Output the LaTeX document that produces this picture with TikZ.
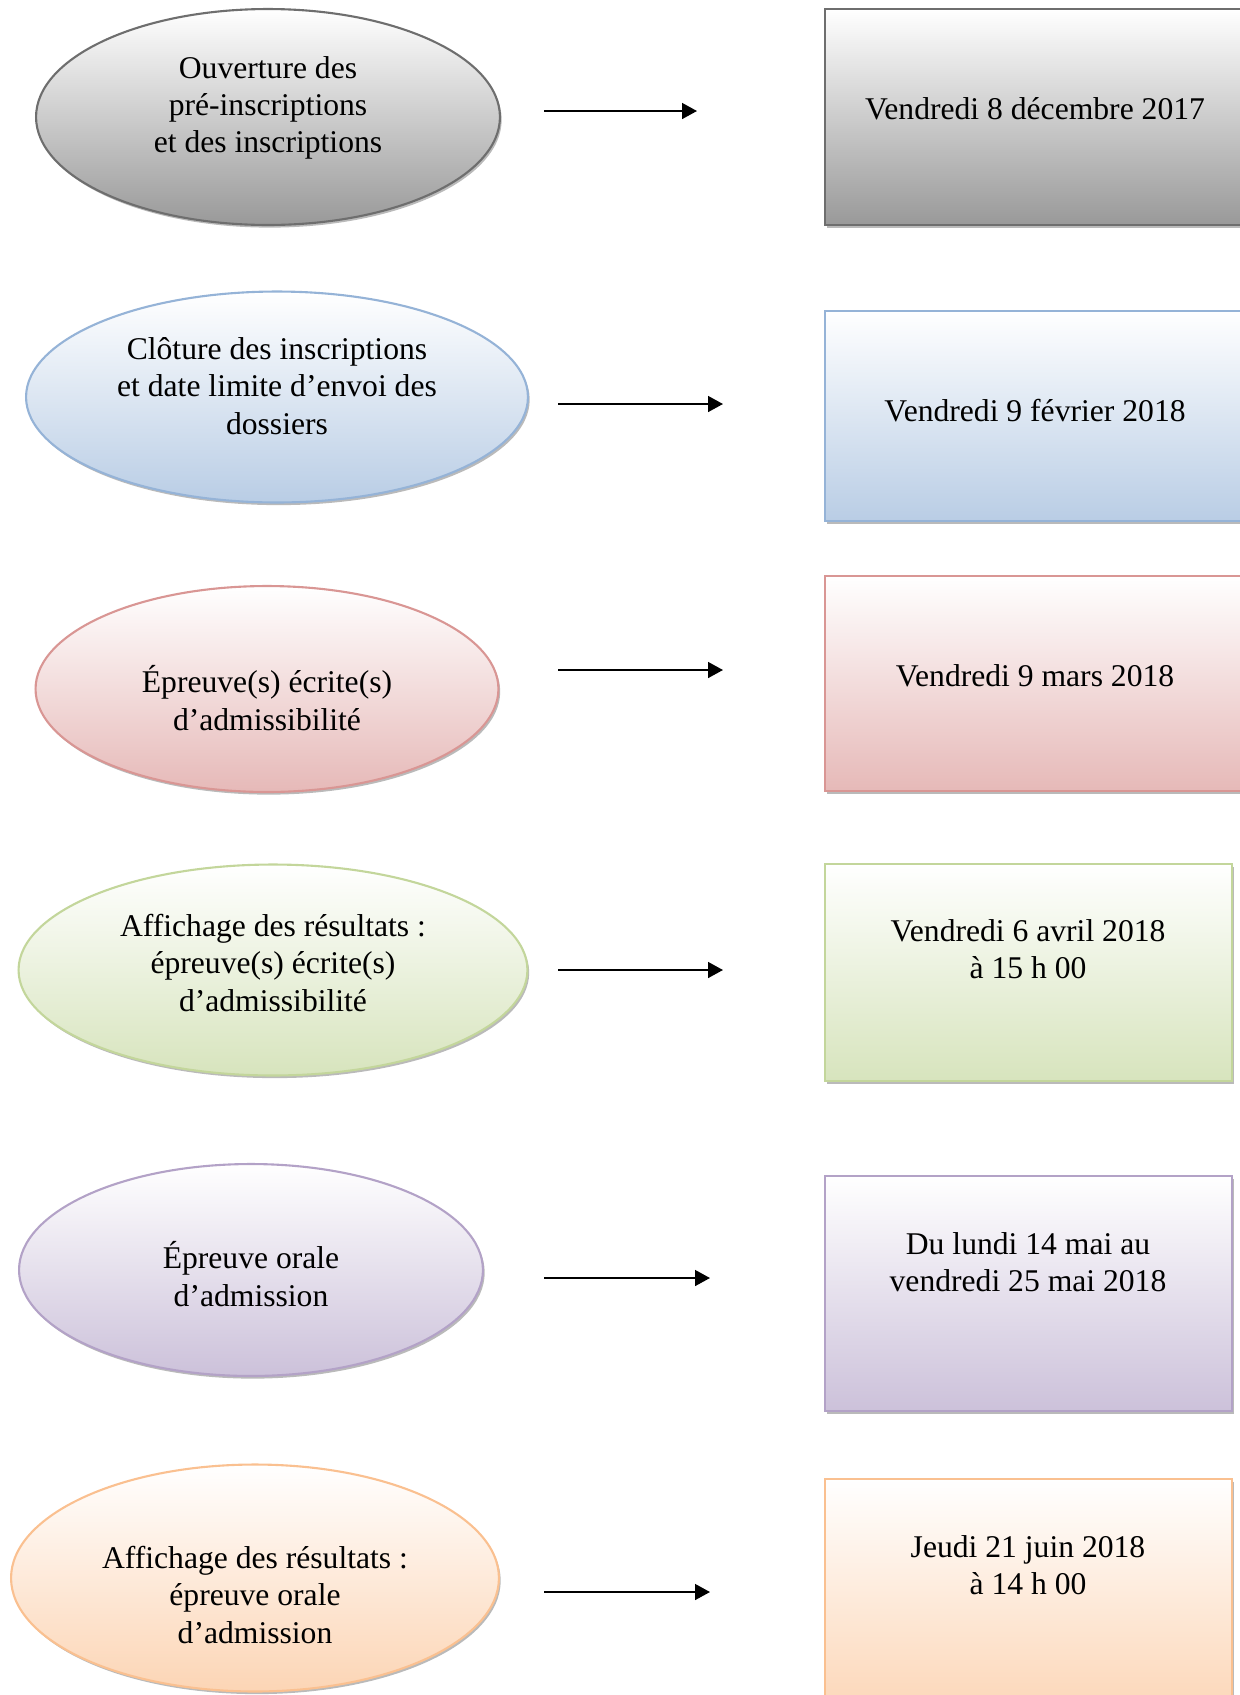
\documentclass[tikz,border=0pt]{standalone}
\usepackage{fontspec}
\setmainfont{Liberation Serif}
\usetikzlibrary{shapes.geometric}
\usetikzlibrary{shadows}
\usetikzlibrary{arrows.meta}

\definecolor{grisbord}{HTML}{6E6E6E}
\definecolor{grisfond}{HTML}{999999}
\definecolor{bleubord}{HTML}{95B3D7}
\definecolor{bleufond}{HTML}{B9CDE5}
\definecolor{rougebord}{HTML}{D99694}
\definecolor{rougefond}{HTML}{E6B9B8}
\definecolor{vertbord}{HTML}{C3D69B}
\definecolor{vertfond}{HTML}{D7E4BD}
\definecolor{violetbord}{HTML}{B3A2C7}
\definecolor{violetfond}{HTML}{CCC1DA}
\definecolor{orangebord}{HTML}{FAC090}
\definecolor{orangefond}{HTML}{FCD5B5}

\tikzset{
  phase/.style={ellipse, inner sep=0pt, line width=1.2pt,
    drop shadow={shadow xshift=1pt, shadow yshift=-1.5pt, fill=black!45, opacity=0.6}},
  datebox/.style={rectangle, inner sep=0pt, line width=1.3pt,
    drop shadow={shadow xshift=1pt, shadow yshift=-1.5pt, fill=black!45, opacity=0.6}},
  boxtext/.style={align=center, inner sep=0pt, font=\fontsize{18}{21.2}\selectfont},
  timearrow/.style={line width=1.1pt, -{Triangle[length=8.5pt, width=9pt]}},
  % une couleur par etape
  teinte/.style 2 args={draw=#1, top color=white, bottom color=#2}
}

\begin{document}
\begin{tikzpicture}[x=0.02cm, y=-0.02cm]
  \useasboundingbox (0,0) rectangle (1240,1695);

  % etapes
  \node[phase, teinte={grisbord}{grisfond}, minimum width=9.28cm, minimum height=4.32cm]
    (e1) at (268,117) {};
  \node[phase, teinte={bleubord}{bleufond}, minimum width=10.04cm, minimum height=4.22cm]
    (e2) at (277,397) {};
  \node[phase, teinte={rougebord}{rougefond}, minimum width=9.26cm, minimum height=4.12cm]
    (e3) at (267,689) {};
  \node[phase, teinte={vertbord}{vertfond}, minimum width=10.18cm, minimum height=4.22cm]
    (e4) at (273,970) {};
  \node[phase, teinte={violetbord}{violetfond}, minimum width=9.28cm, minimum height=4.24cm]
    (e5) at (251,1270) {};
  \node[phase, teinte={orangebord}{orangefond}, minimum width=9.76cm, minimum height=4.54cm]
    (e6) at (255,1578) {};

  \node[boxtext] (s1) at (268,108) {Ouverture des\\pré-inscriptions\\et des inscriptions};
  \node[boxtext] (s2) at (277,386) {Clôture des inscriptions\\et date limite d’envoi des\\dossiers};
  \node[boxtext] (s3) at (267,698) {Épreuve(s) écrite(s)\\d’admissibilité};
  \node[boxtext] (s4) at (273,963) {Affichage des résultats :\\épreuve(s) écrite(s)\\d’admissibilité};
  \node[boxtext] (s5) at (251,1274) {Épreuve orale\\d’admission};
  \node[boxtext] (s6) at (255,1595) {Affichage des résultats :\\épreuve orale\\d’admission};

  % dates
  \node[datebox, teinte={grisbord}{grisfond}, minimum width=8.5cm, minimum height=4.32cm]
    (d1) at (1037.5,117) {};
  \node[datebox, teinte={bleubord}{bleufond}, minimum width=8.5cm, minimum height=4.2cm]
    (d2) at (1037.5,416) {};
  \node[datebox, teinte={rougebord}{rougefond}, minimum width=8.5cm, minimum height=4.3cm]
    (d3) at (1037.5,683.5) {};
  \node[datebox, teinte={vertbord}{vertfond}, minimum width=8.14cm, minimum height=4.34cm]
    (d4) at (1028.5,972.5) {};
  \node[datebox, teinte={violetbord}{violetfond}, minimum width=8.14cm, minimum height=4.7cm]
    (d5) at (1028.5,1293.5) {};
  \node[datebox, teinte={orangebord}{orangefond}, minimum width=8.14cm, minimum height=4.82cm]
    (d6) at (1028.5,1599.5) {};

  \node[boxtext] (t1) at (1035,109) {Vendredi 8 décembre 2017};
  \node[boxtext] (t2) at (1035,411) {Vendredi 9 février 2018};
  \node[boxtext] (t3) at (1035,676) {Vendredi 9 mars 2018};
  \node[boxtext] (t4) at (1028,949) {Vendredi 6 avril 2018\\à 15 h 00};
  \node[boxtext] (t5) at (1028,1262) {Du lundi 14 mai au\\vendredi 25 mai 2018};
  \node[boxtext] (t6) at (1028,1565) {Jeudi 21 juin 2018\\à 14 h 00};

  % fleches
  \coordinate (a1) at (544,111);  \coordinate (b1) at (697,111);
  \coordinate (a2) at (558,404);  \coordinate (b2) at (723,404);
  \coordinate (a3) at (558,670);  \coordinate (b3) at (723,670);
  \coordinate (a4) at (558,970);  \coordinate (b4) at (723,970);
  \coordinate (a5) at (544,1278); \coordinate (b5) at (710,1278);
  \coordinate (a6) at (544,1592); \coordinate (b6) at (710,1592);
  \draw[timearrow] (a1) -- (b1);
  \draw[timearrow] (a2) -- (b2);
  \draw[timearrow] (a3) -- (b3);
  \draw[timearrow] (a4) -- (b4);
  \draw[timearrow] (a5) -- (b5);
  \draw[timearrow] (a6) -- (b6);
\end{tikzpicture}
\end{document}
